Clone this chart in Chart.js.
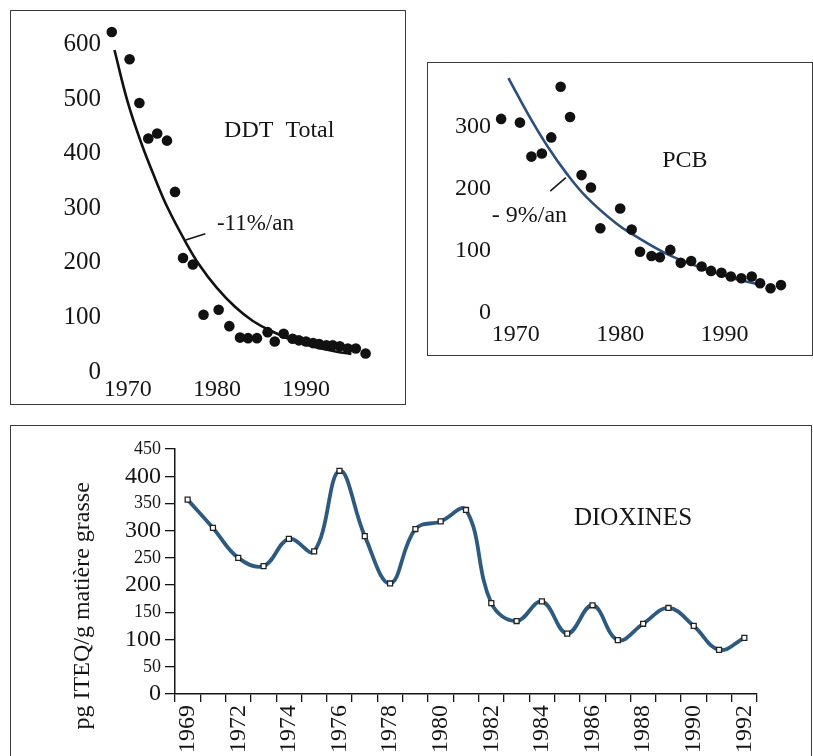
<!DOCTYPE html>
<html>
<head>
<meta charset="utf-8">
<script src="https://cdn.jsdelivr.net/npm/chart.js@4/dist/chart.umd.min.js"></script>
<style>
  body { margin: 0; background: #fff; width: 813px; height: 756px; overflow: hidden; position: relative; }
  .box { position: absolute; border: 1.5px solid #3a3a3a; box-sizing: border-box; }
  .wrap { position: absolute; }
</style>
</head>
<body>
<div class="box" style="left:10px;top:10px;width:396px;height:395px"></div>
<div class="box" style="left:427px;top:62px;width:386px;height:294px"></div>
<div class="box" style="left:10px;top:425px;width:802px;height:345px"></div>

<div class="wrap" style="left:12px;top:12px;width:392px;height:391px"><canvas id="ddt"></canvas></div>
<div class="wrap" style="left:430px;top:64px;width:381px;height:290px"><canvas id="pcb"></canvas></div>
<div class="wrap" style="left:12px;top:427px;width:799px;height:329px"><canvas id="diox"></canvas></div>

<script>
// DDT total : mesures
const ddtYears = [1968.2, 1970.2, 1971.3, 1972.3, 1973.3, 1974.4, 1975.3, 1976.2, 1977.3, 1978.5,
  1980.2, 1981.4, 1982.6, 1983.5, 1984.5, 1985.7, 1986.5, 1987.5, 1988.5, 1989.2,
  1990, 1990.8, 1991.5, 1992.3, 1993, 1993.8, 1994.7, 1995.6, 1996.7];
const ddtValues = [623, 573, 493, 428, 437, 424, 330, 209, 197, 105,
  114, 84, 63, 62, 62, 73, 56, 70, 61, 58,
  56, 53, 51, 49, 49, 47, 43, 43, 34];
// DDT total : courbe -11%/an
const ddtFitYears = [1968.5, 1970, 1971.5, 1973, 1974.5, 1976.6, 1978, 1980, 1982, 1984, 1986, 1989.4, 1993.2, 1995.1];
const ddtFitValues = [590, 494, 420, 357, 300, 235, 197, 154, 120, 94, 76, 53, 38, 33];
const ddtXTicks = [1970, 1980, 1990];
const ddtYTicks = [0, 100, 200, 300, 400, 500, 600];

// PCB : mesures
const pcbYears = [1968.6, 1970.4, 1971.5, 1972.5, 1973.4, 1974.3, 1975.2, 1976.3, 1977.2, 1978.1,
  1980, 1981.1, 1981.9, 1983, 1983.8, 1984.8, 1985.8, 1986.8, 1987.8, 1988.7,
  1989.7, 1990.6, 1991.6, 1992.6, 1993.4, 1994.4, 1995.4];
const pcbValues = [313, 307, 252, 257, 283, 365, 316, 222, 202, 136,
  168, 134, 98, 91, 89, 101, 80, 83, 74, 67,
  64, 58, 55, 58, 47, 39, 44];
// PCB : courbe -9%/an
const pcbFitYears = [1969.3, 1971.3, 1973.1, 1974.9, 1976.8, 1979.6, 1981.2, 1984.4, 1987.6, 1990.8, 1993.3];
const pcbFitValues = [379, 317, 267, 224, 186, 144, 126, 95, 73, 55, 45];
const pcbXTicks = [1970, 1980, 1990];
const pcbYTicks = [0, 100, 200, 300];

// Dioxines
const dioxYears = ['1969', '1970', '1972', '1973', '1974', '1975', '1976', '1977', '1978', '1979',
  '1980', '1981', '1982', '1983', '1984', '1985', '1986', '1987', '1988', '1989',
  '1990', '1991', '1992'];
const dioxValues = [357, 305, 250, 235, 285, 262, 410, 290, 203, 303,
  317, 338, 167, 134, 170, 111, 163, 99, 129, 158,
  125, 81, 103];

const serif = "'Liberation Serif', 'Times New Roman', serif";
Chart.defaults.font.family = serif;
Chart.defaults.color = '#151515';
Chart.defaults.animation = false;

const pts = (xs, ys) => xs.map((x, i) => ({ x: x, y: ys[i] }));

// texts and leader lines placed in data coordinates
const notesPlugin = {
  id: 'notes',
  afterDatasetsDraw(chart, args, opts) {
    const ctx = chart.ctx, x = chart.scales.x, y = chart.scales.y;
    ctx.save();
    ctx.strokeStyle = '#151515';
    ctx.lineWidth = 1.5;
    (opts.lines || []).forEach(l => {
      ctx.beginPath();
      ctx.moveTo(x.getPixelForValue(l[0]), y.getPixelForValue(l[1]));
      ctx.lineTo(x.getPixelForValue(l[2]), y.getPixelForValue(l[3]));
      ctx.stroke();
    });
    ctx.fillStyle = '#151515';
    ctx.textBaseline = 'middle';
    (opts.texts || []).forEach(t => {
      ctx.save();
      ctx.font = t.size + 'px ' + serif;
      ctx.textAlign = t.align || 'center';
      ctx.translate(x.getPixelForValue(t.x), y.getPixelForValue(t.y));
      if (t.rotate) ctx.rotate(-Math.PI / 2);
      ctx.fillText(t.text, 0, 0);
      ctx.restore();
    });
    ctx.restore();
  }
};

function trendChart(id, o) {
  return new Chart(document.getElementById(id), {
    type: 'scatter',
    data: {
      datasets: [
        { data: o.points, pointRadius: 5.3, pointHoverRadius: 5.3, backgroundColor: '#111', borderWidth: 0, clip: false },
        { data: o.fit, showLine: true, pointRadius: 0, borderColor: o.fitColor, borderWidth: 2.6,
          tension: 0.4, fill: false, clip: false }
      ]
    },
    options: {
      responsive: true,
      maintainAspectRatio: false,
      layout: { padding: o.padding },
      plugins: { legend: { display: false }, tooltip: { enabled: false }, notes: o.notes },
      scales: {
        x: {
          type: 'linear', min: o.xMin, max: o.xMax,
          grid: { display: false, drawTicks: false }, border: { display: false },
          ticks: { padding: o.xPad, font: { size: 24 }, callback: v => String(v) },
          afterBuildTicks: s => { s.ticks = o.xTicks.map(v => ({ value: v })); },
          afterFit: s => { s.height = o.xHeight; s.paddingLeft = 0; s.paddingRight = 0; }
        },
        y: {
          min: 0, max: o.yMax,
          grid: { display: false, drawTicks: false }, border: { display: false },
          ticks: { padding: o.yPad, font: { size: o.ySize }, callback: v => String(v) },
          afterBuildTicks: s => { s.ticks = o.yTicks.map(v => ({ value: v })); },
          afterFit: s => { s.width = o.yWidth; s.paddingTop = 0; s.paddingBottom = 0; }
        }
      }
    },
    plugins: [notesPlugin]
  });
}

trendChart('ddt', {
  points: pts(ddtYears, ddtValues),
  fit: pts(ddtFitYears, ddtFitValues),
  fitColor: '#111',
  xMin: 1968, xMax: 2000, yMax: 650,
  xTicks: ddtXTicks, yTicks: ddtYTicks,
  xPad: 3, yPad: 9, ySize: 25, xHeight: 31, yWidth: 98,
  padding: { top: 1.4, right: 9, left: 0, bottom: 0 },
  notes: {
    texts: [
      { text: 'DDT  Total', x: 1987, y: 442, size: 24 },
      { text: '-11%/an', x: 1980, y: 272, size: 23, align: 'left' }
    ],
    lines: [[1976.5, 242, 1978.7, 253.5]]
  }
});

trendChart('pcb', {
  points: pts(pcbYears, pcbValues),
  fit: pts(pcbFitYears, pcbFitValues),
  fitColor: '#2b4f7e',
  xMin: 1968.3, xMax: 1997.7, yMax: 390,
  xTicks: pcbXTicks, yTicks: pcbYTicks,
  xPad: 8, yPad: 7, ySize: 24, xHeight: 41.7, yWidth: 68,
  padding: { top: 7.3, right: 6, left: 0, bottom: 0 },
  notes: {
    texts: [
      { text: 'PCB', x: 1986.2, y: 246, size: 24 },
      { text: '- 9%/an', x: 1967.7, y: 157, size: 24, align: 'left' }
    ],
    lines: [[1973.3, 196, 1974.8, 218]]
  }
});

new Chart(document.getElementById('diox'), {
  type: 'line',
  data: {
    labels: dioxYears,
    datasets: [{
      data: dioxValues,
      borderColor: '#2d5a7e',
      borderWidth: 3.8,
      tension: 0.4,
      fill: false,
      pointStyle: 'rect',
      pointRadius: 3.5,
      pointHoverRadius: 3.5,
      pointBorderWidth: 1.3,
      pointBorderColor: '#222',
      pointBackgroundColor: '#fff'
    }]
  },
  options: {
    responsive: true,
    maintainAspectRatio: false,
    layout: { padding: { top: 22, right: 54, left: 0, bottom: 0 } },
    plugins: {
      legend: { display: false },
      tooltip: { enabled: false },
      notes: {
        texts: [
          { text: 'DIOXINES', x: 17.6, y: 323, size: 25 },
          { text: 'pg ITEQ/g matière grasse', x: -4.14, y: 162, size: 24, rotate: true }
        ]
      }
    },
    scales: {
      x: {
        offset: true,
        grid: { offset: true, drawOnChartArea: false, drawTicks: true, tickLength: 8, color: '#151515', lineWidth: 1.3 },
        border: { display: true, color: '#151515', width: 1.5 },
        ticks: {
          autoSkip: false, maxRotation: 90, minRotation: 90, padding: 3, font: { size: 24 },
          callback: function (v, i) { return i % 2 === 0 ? this.getLabelForValue(v) : ''; }
        },
        afterFit: s => { s.height = 62; }
      },
      y: {
        min: 0, max: 450,
        grid: { drawOnChartArea: false, drawTicks: true, tickLength: 10, color: '#151515', lineWidth: 1.3 },
        border: { display: true, color: '#151515', width: 1.5 },
        ticks: {
          stepSize: 50, padding: 4, autoSkip: false,
          font: c => ({ size: c.tick && c.tick.value % 100 === 0 ? 24 : 18 })
        },
        afterFit: s => { s.width = 163; }
      }
    }
  },
  plugins: [notesPlugin]
});
</script>
</body>
</html>
